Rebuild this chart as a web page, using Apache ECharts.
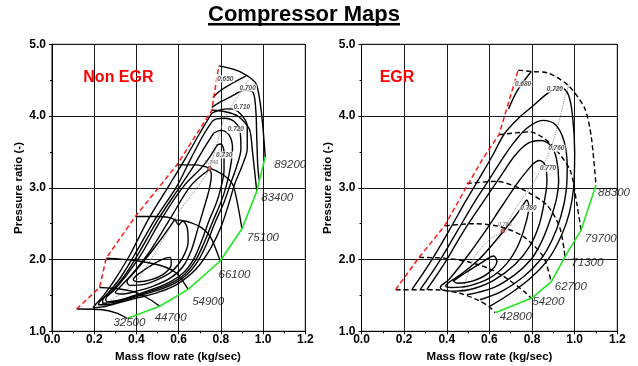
<!DOCTYPE html>
<html><head><meta charset="utf-8">
<script src="https://cdn.jsdelivr.net/npm/echarts/dist/echarts.min.js"></script>
<style>html,body{margin:0;padding:0;background:#fff}#c{width:638px;height:366px}</style>
</head><body><div id="c"></div>
<script>
// ================= DATA =================
const X_TICKS = [0.0, 0.2, 0.4, 0.6, 0.8, 1.0, 1.2];
const Y_TICKS = [1.0, 2.0, 3.0, 4.0, 5.0];

// ---- Left map: Non EGR ----
const L_SURGE = [[0.117,1.31],[0.225,1.61],[0.257,2.02],[0.395,2.60],[0.592,3.32],[0.757,4.08],[0.79,4.70]];
const L_CHOKE = [[0.355,1.18],[0.51,1.35],[0.645,1.585],[0.797,1.98],[0.90,2.43],[0.97,2.95],[1.01,3.43]];
const L_SPEED_NAMES = ['32500','44700','54900','66100','75100','83400','89200'];
const L_N32500 = [[0.117,1.31],[0.24,1.30],[0.31,1.25],[0.355,1.18]];
const L_N44700 = [[0.225,1.61],[0.32,1.59],[0.40,1.54],[0.46,1.45],[0.51,1.35]];
const L_N54900 = [[0.257,2.02],[0.386,1.99],[0.51,1.92],[0.59,1.81],[0.645,1.585]];
const L_N66100 = [[0.395,2.60],[0.51,2.60],[0.58,2.56],[0.60,2.48],[0.62,2.54],[0.70,2.46],[0.75,2.32],[0.797,1.98]];
const L_N75100 = [[0.592,3.32],[0.68,3.32],[0.75,3.27],[0.82,3.16],[0.86,3.02],[0.90,2.43]];
const L_N83400 = [[0.757,4.08],[0.82,4.06],[0.88,4.0],[0.935,3.82],[0.95,3.5],[0.97,2.95]];
const L_N89200 = [[0.79,4.70],[0.89,4.62],[0.97,4.43],[1.01,3.43]];
const L_E650 = [[0.762,4.26],[0.80,4.36],[0.85,4.45],[0.92,4.56]];
const L_E700 = [[0.757,4.12],[0.80,4.20],[0.86,4.29],[0.91,4.36],[0.95,4.34],[0.965,4.1],[0.97,3.7],[0.975,3.3],[0.982,3.1]];
const L_E710 = [[0.757,4.04],[0.70,3.76],[0.63,3.40],[0.552,3.02],[0.46,2.58],[0.37,2.07],[0.30,1.73],[0.245,1.50],[0.205,1.37],[0.195,1.33],[0.24,1.34],[0.32,1.40],[0.41,1.47],[0.50,1.54],[0.59,1.65],[0.68,1.86],[0.75,2.15],[0.80,2.45],[0.84,2.80],[0.865,3.05],[0.90,3.30],[0.925,3.55],[0.925,3.85],[0.89,4.04],[0.84,4.10],[0.80,4.09],[0.757,4.04]];
const L_E720 = [[0.76,3.93],[0.72,3.75],[0.66,3.42],[0.591,3.02],[0.49,2.57],[0.39,2.06],[0.325,1.75],[0.265,1.53],[0.225,1.41],[0.22,1.37],[0.26,1.37],[0.34,1.43],[0.43,1.51],[0.52,1.59],[0.61,1.72],[0.68,1.93],[0.73,2.2],[0.77,2.5],[0.815,2.80],[0.845,3.05],[0.875,3.30],[0.895,3.55],[0.89,3.80],[0.86,3.93],[0.82,3.97],[0.78,3.96],[0.76,3.93]];
const L_E725 = [[0.765,3.76],[0.72,3.55],[0.67,3.30],[0.607,3.02],[0.505,2.57],[0.405,2.06],[0.34,1.76],[0.28,1.55],[0.24,1.43],[0.24,1.39],[0.285,1.40],[0.36,1.46],[0.445,1.54],[0.53,1.625],[0.615,1.76],[0.675,1.965],[0.72,2.23],[0.76,2.52],[0.80,2.80],[0.825,3.02],[0.845,3.28],[0.855,3.55],[0.84,3.73],[0.80,3.80],[0.765,3.76]];
const L_E730 = [[0.775,3.56],[0.72,3.32],[0.623,3.02],[0.52,2.57],[0.42,2.06],[0.35,1.77],[0.29,1.56],[0.255,1.45],[0.26,1.41],[0.31,1.43],[0.38,1.49],[0.46,1.57],[0.54,1.66],[0.62,1.81],[0.67,2.0],[0.71,2.27],[0.745,2.55],[0.78,2.80],[0.80,3.0],[0.815,3.25],[0.815,3.50],[0.80,3.61],[0.785,3.60],[0.775,3.56]];
const L_E735 = [[0.73,3.22],[0.655,3.02],[0.56,2.57],[0.46,2.10],[0.38,1.80],[0.32,1.61],[0.30,1.54],[0.33,1.52],[0.40,1.56],[0.48,1.63],[0.56,1.74],[0.62,1.90],[0.66,2.13],[0.69,2.42],[0.72,2.72],[0.745,2.98],[0.755,3.18],[0.745,3.25],[0.73,3.22]];
const L_E738 = [[0.58,2.55],[0.50,2.22],[0.43,1.96],[0.38,1.79],[0.355,1.69],[0.37,1.64],[0.43,1.65],[0.50,1.72],[0.57,1.84],[0.62,2.03],[0.645,2.25],[0.64,2.45],[0.61,2.55],[0.58,2.55]];
const L_E740 = [[0.41,1.80],[0.385,1.72],[0.41,1.69],[0.47,1.72],[0.53,1.80],[0.565,1.93],[0.56,2.03],[0.52,2.0],[0.46,1.90],[0.41,1.80]];
const L_PEAK = [[0.16,1.30],[0.23,1.35],[0.39,1.67],[0.50,2.15],[0.61,2.70],[0.70,3.05],[0.746,3.27],[0.79,3.70],[0.813,3.94],[0.86,4.18],[0.93,4.50]];
const L_PEAK_PT = [0.746,3.27];
const L_EFF_TXT = ['0.650','0.700','0.710','0.720','0.730'];
const L_EFF_POS = [[0.821,4.52],[0.927,4.39],[0.90,4.12],[0.871,3.81],[0.816,3.457]];
const L_PEAK_TXT = '0.740';

// ---- Right map: EGR ----
const R_SURGE = [[0.16,1.58],[0.27,2.03],[0.39,2.47],[0.49,3.0],[0.57,3.41],[0.645,3.74],[0.735,4.64]];
const R_CHOKE = [[0.627,1.26],[0.797,1.46],[0.89,1.69],[0.955,2.04],[1.03,2.41],[1.10,3.04]];
const R_SPEED_NAMES = ['42800','54200','62700','71300','79700','88300'];
const R_N42800 = [[0.16,1.58],[0.35,1.58],[0.46,1.53],[0.55,1.43],[0.60,1.34],[0.627,1.26]];
const R_N54200 = [[0.27,2.03],[0.39,2.02],[0.50,1.97],[0.61,1.86],[0.69,1.72],[0.765,1.55],[0.797,1.46]];
const R_N62700 = [[0.392,2.47],[0.525,2.50],[0.65,2.46],[0.76,2.32],[0.853,2.04],[0.89,1.69]];
const R_N71300 = [[0.494,3.06],[0.635,3.09],[0.76,2.97],[0.87,2.76],[0.93,2.45],[0.955,2.04]];
const R_N79700 = [[0.645,3.74],[0.79,3.78],[0.885,3.62],[0.978,3.25],[1.01,2.78],[1.03,2.41]];
const R_N88300 = [[0.735,4.64],[0.797,4.62],[0.875,4.60],[0.969,4.43],[1.047,4.11],[1.078,3.71],[1.10,3.04]];
const R_E680 = [[0.69,4.10],[0.73,4.35],[0.77,4.52],[0.797,4.62]];
const R_E720 = [[0.236,1.58],[0.32,1.95],[0.41,2.40],[0.49,2.82],[0.56,3.17],[0.615,3.45],[0.672,3.76],[0.74,3.98],[0.80,4.13],[0.875,4.32],[0.935,4.40],[0.97,4.30],[0.99,4.0],[1.0,3.5],[0.995,3.0],[0.975,2.65],[0.94,2.35],[0.88,2.02],[0.80,1.76],[0.70,1.53],[0.603,1.35]];
const R_E740 = [[0.275,1.58],[0.36,1.95],[0.45,2.40],[0.53,2.80],[0.60,3.12],[0.66,3.40],[0.72,3.65],[0.78,3.84],[0.85,3.94],[0.91,3.88],[0.95,3.65],[0.965,3.3],[0.96,2.95],[0.935,2.6],[0.895,2.28],[0.84,2.0],[0.76,1.76],[0.66,1.56],[0.556,1.44]];
const R_E760 = [[0.306,1.58],[0.39,1.95],[0.48,2.40],[0.57,2.80],[0.65,3.15],[0.72,3.45],[0.78,3.62],[0.84,3.66],[0.89,3.58],[0.915,3.40],[0.925,3.1],[0.915,2.85],[0.885,2.55],[0.845,2.25],[0.795,2.0],[0.72,1.79],[0.62,1.61],[0.494,1.51]];
const R_E770 = [[0.80,3.32],[0.74,3.10],[0.66,2.75],[0.57,2.35],[0.48,1.98],[0.41,1.72],[0.37,1.61],[0.385,1.57],[0.44,1.56],[0.52,1.59],[0.62,1.71],[0.72,1.93],[0.79,2.19],[0.835,2.50],[0.86,2.85],[0.87,3.10],[0.86,3.32],[0.835,3.38],[0.80,3.32]];
const R_E780 = [[0.765,2.79],[0.72,2.60],[0.64,2.30],[0.55,2.0],[0.465,1.79],[0.405,1.67],[0.395,1.63],[0.42,1.61],[0.50,1.63],[0.60,1.74],[0.68,1.94],[0.735,2.2],[0.77,2.5],[0.785,2.74],[0.775,2.83],[0.765,2.79]];
const R_E785 = [[0.43,1.70],[0.45,1.67],[0.52,1.70],[0.59,1.80],[0.635,1.97],[0.62,2.05],[0.56,1.95],[0.48,1.80],[0.43,1.70]];
const R_PEAK = [[0.47,1.55],[0.50,1.80],[0.53,2.04],[0.60,2.28],[0.663,2.40],[0.72,2.70],[0.813,3.10],[0.875,3.45],[0.925,3.90],[0.955,4.27],[0.975,4.45]];
const R_PEAK_PT = [0.663,2.40];
const R_EFF_TXT = ['0.680','0.720','0.760','0.770','0.780'];
const R_EFF_POS = [[0.758,4.447],[0.907,4.373],[0.914,3.55],[0.875,3.27],[0.783,2.714]];
const R_PEAK_TXT = '0.785';

// ================= LAYOUT / STYLE =================
const FONT = '"Liberation Sans", Arial, sans-serif';
const L_LABEL_OFFSETS = [[-13.5,4.3],[-5,11.3],[4,12.4],[-1.7,13.4],[5,9.4],[4.5,6.7],[9,8]];
const R_LABEL_OFFSETS = [[4.7,4.1],[1,3.8],[3.6,4.6],[6.3,5.8],[3.7,8.7],[2,8]];

function ln(i, data, color, width, type, smooth, z) {
  return {type:'line', xAxisIndex:i, yAxisIndex:i, data:data, showSymbol:false, symbol:'none',
    smooth:smooth, silent:true, animation:false, z:z||2,
    lineStyle:{color:color, width:width, type:type||'solid'}};
}
function speedLabels(i, lines, names, offs) {
  return {type:'scatter', xAxisIndex:i, yAxisIndex:i, symbolSize:1, silent:true, animation:false, z:6,
    itemStyle:{color:'rgba(0,0,0,0)'},
    data: lines.map((l,k)=>({value:l[l.length-1], name:names[k],
      label:{show:true, position:'inside', align:'left', verticalAlign:'middle', offset:offs[k],
        formatter:names[k], fontStyle:'italic', fontSize:11.5, color:'#000', fontFamily:FONT}}))};
}
function effLabels(i, pos, txt, peakPt, peakTxt) {
  const d = pos.map((p,k)=>({value:p, label:{show:true, formatter:txt[k]}}));
  d.push({value:peakPt, label:{show:true, formatter:peakTxt, color:'#777', fontSize:5.5, offset:[2,-6], backgroundColor:'rgba(255,255,255,0)'}});
  return {type:'scatter', xAxisIndex:i, yAxisIndex:i, symbolSize:1, silent:true, animation:false, z:7,
    itemStyle:{color:'rgba(0,0,0,0)'},
    label:{show:true, position:'inside', fontStyle:'italic', fontWeight:'bold', fontSize:6.5, color:'#222', fontFamily:FONT,
      backgroundColor:'#fff', padding:[0,1]},
    data:d};
}
function marker(i, pt) {
  return {type:'scatter', xAxisIndex:i, yAxisIndex:i, symbol:'circle', symbolSize:4, silent:true, animation:false, z:8,
    itemStyle:{color:'#d08080', borderColor:'#8b1a1a', borderWidth:1}, data:[pt]};
}

const BK = '#000', RED = '#ff1a1a', GRN = '#22e622', GRY = '#8a8a8a';
const series = [];
// left
[L_E650,L_E700,L_E710,L_E720,L_E725,L_E730,L_E735,L_E738,L_E740].forEach(d=>series.push(ln(0,d,BK,1.4,'solid',0.35,3)));
series.push(ln(0,L_PEAK,GRY,1,'dotted',0.2,2));
[L_N32500,L_N44700,L_N54900,L_N66100,L_N75100,L_N83400,L_N89200].forEach(d=>series.push(ln(0,d,BK,1.4,'solid',0.25,4)));
series.push(ln(0,L_SURGE,RED,1.5,[5,3],0,5));
series.push(ln(0,L_CHOKE,GRN,1.6,'solid',0,5));
series.push(speedLabels(0,[L_N32500,L_N44700,L_N54900,L_N66100,L_N75100,L_N83400,L_N89200],L_SPEED_NAMES,L_LABEL_OFFSETS));
series.push(effLabels(0,L_EFF_POS,L_EFF_TXT,L_PEAK_PT,L_PEAK_TXT));
series.push(marker(0,L_PEAK_PT));
// right
[R_E680,R_E720,R_E740,R_E760,R_E770,R_E780,R_E785].forEach(d=>series.push(ln(1,d,BK,1.4,'solid',0.35,3)));
series.push(ln(1,R_PEAK,GRY,1,'dotted',0.2,2));
[R_N42800,R_N54200,R_N62700,R_N71300,R_N79700,R_N88300].forEach(d=>series.push(ln(1,d,BK,1.4,[5,3],0.25,4)));
series.push(ln(1,R_SURGE,RED,1.5,[5,3],0,5));
series.push(ln(1,R_CHOKE,GRN,1.6,'solid',0,5));
series.push(speedLabels(1,[R_N42800,R_N54200,R_N62700,R_N71300,R_N79700,R_N88300],R_SPEED_NAMES,R_LABEL_OFFSETS));
series.push(effLabels(1,R_EFF_POS,R_EFF_TXT,R_PEAK_PT,R_PEAK_TXT));
series.push(marker(1,R_PEAK_PT));

function xAx(i){ return {gridIndex:i, type:'value', min:X_TICKS[0], max:X_TICKS[X_TICKS.length-1], interval:X_TICKS[1]-X_TICKS[0],
  axisLine:{show:true, lineStyle:{color:'#000', width:1}},
  axisTick:{show:true, length:3, lineStyle:{color:'#000'}},
  minorTick:{show:true, splitNumber:2, length:2, lineStyle:{color:'#000'}},
  splitLine:{show:true, lineStyle:{color:'#1a1a1a', width:1}},
  axisLabel:{formatter:v=>v.toFixed(1), fontWeight:'bold', fontSize:12, color:'#000', margin:2, fontFamily:FONT, showMinLabel:true, showMaxLabel:true}}; }
function yAx(i){ return {gridIndex:i, type:'value', min:Y_TICKS[0], max:Y_TICKS[Y_TICKS.length-1], interval:Y_TICKS[1]-Y_TICKS[0],
  axisLine:{show:true, lineStyle:{color:'#000', width:1}},
  axisTick:{show:true, length:3, lineStyle:{color:'#000'}},
  minorTick:{show:true, splitNumber:2, length:2, lineStyle:{color:'#000'}},
  splitLine:{show:true, lineStyle:{color:'#1a1a1a', width:1}},
  axisLabel:{formatter:v=>v.toFixed(1), fontWeight:'bold', fontSize:12, color:'#000', margin:6, fontFamily:FONT, showMinLabel:true, showMaxLabel:true}}; }

function txt(x,y,s,font,fill,rot){ return {type:'text', x:x, y:y, rotation:rot||0, silent:true, z:10,
  style:{text:s, font:font, fill:fill, align:'center', verticalAlign:'middle', textAlign:'center', textVerticalAlign:'middle'}}; }

const chart = echarts.init(document.getElementById('c'), null, {renderer:'canvas'});
chart.setOption({
  animation:false,
  backgroundColor:'#fff',
  grid:[
    {left:52, top:44.3, width:253.3, height:287, show:true, borderColor:'#000', borderWidth:1, backgroundColor:'#fff'},
    {left:361.5, top:44.3, width:255.8, height:287, show:true, borderColor:'#000', borderWidth:1, backgroundColor:'#fff'}
  ],
  xAxis:[xAx(0), xAx(1)],
  yAxis:[yAx(0), yAx(1)],
  series:series,
  graphic:[
    txt(304,14.5,'Compressor Maps','bold 22px '+FONT,'#000'),
    {type:'rect', shape:{x:208,y:23,width:192,height:2.5}, style:{fill:'#000'}, silent:true},
    {type:'text', x:83.3, y:78, silent:true, z:10, style:{text:'Non EGR', font:'bold 16px '+FONT, fill:'#ff0000', align:'left', verticalAlign:'middle', textAlign:'left', textVerticalAlign:'middle'}},
    {type:'text', x:379.7, y:78, silent:true, z:10, style:{text:'EGR', font:'bold 16px '+FONT, fill:'#ff0000', align:'left', verticalAlign:'middle', textAlign:'left', textVerticalAlign:'middle'}},
    txt(178,356.5,'Mass flow rate (kg/sec)','bold 11.5px '+FONT,'#000'),
    txt(489.5,356.5,'Mass flow rate (kg/sec)','bold 11.5px '+FONT,'#000'),
    txt(19,188,'Pressure ratio (-)','bold 11.5px '+FONT,'#000',Math.PI/2),
    txt(328,188,'Pressure ratio (-)','bold 11.5px '+FONT,'#000',Math.PI/2)
  ]
});
</script>
</body></html>
